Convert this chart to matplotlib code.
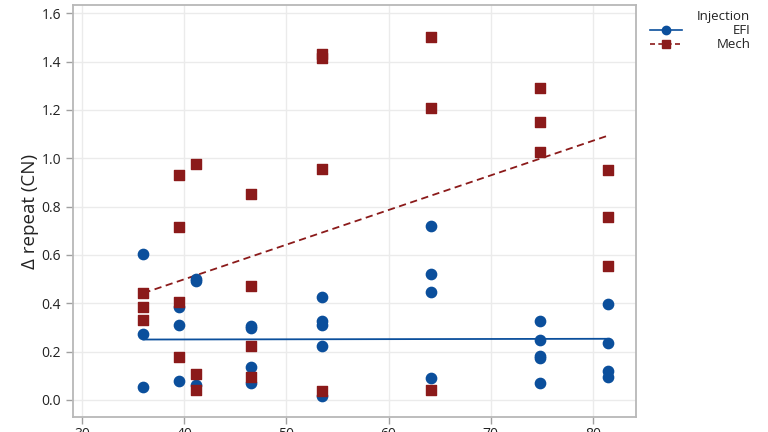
import numpy as np
import matplotlib.pyplot as plt
from matplotlib.lines import Line2D
from matplotlib.transforms import Affine2D

plt.rcParams['font.family'] = ['Open Sans', 'DejaVu Sans']

# EFI (blue circles)
efi_x = [36.0, 36.0, 36.0,
         39.5, 39.5, 39.5,
         41.1, 41.1, 41.1,
         46.5, 46.5, 46.5, 46.5,
         53.5, 53.5, 53.5, 53.5, 53.5,
         64.1, 64.1, 64.1, 64.1,
         74.8, 74.8, 74.8, 74.8, 74.8,
         81.5, 81.5, 81.5, 81.5]
efi_y = [0.603, 0.273, 0.055,
         0.386, 0.310, 0.078,
         0.492, 0.500, 0.062,
         0.306, 0.296, 0.138, 0.069,
         0.427, 0.326, 0.310, 0.224, 0.017,
         0.719, 0.523, 0.448, 0.092,
         0.326, 0.248, 0.172, 0.180, 0.069,
         0.395, 0.237, 0.120, 0.096]

# Mech (red squares)
mech_x = [36.0, 36.0, 36.0,
          39.5, 39.5, 39.5, 39.5,
          41.1, 41.1, 41.1,
          46.5, 46.5, 46.5, 46.5,
          53.5, 53.5, 53.5, 53.5,
          64.1, 64.1, 64.1,
          74.8, 74.8, 74.8,
          81.5, 81.5, 81.5]
mech_y = [0.443, 0.383, 0.331,
          0.931, 0.714, 0.405, 0.179,
          0.978, 0.107, 0.041,
          0.851, 0.472, 0.224, 0.096,
          1.432, 1.416, 0.957, 0.038,
          1.501, 1.207, 0.041,
          1.292, 1.150, 1.025,
          0.950, 0.757, 0.555]

# fitted lines (value at start and end of x range)
fit_x = [36.0, 81.3]
fit_efi = [0.250, 0.253]
fit_mech = [0.442, 1.091]

blue = '#0b4f9c'
red = '#8b1a1a'

fig = plt.figure(figsize=(7.68, 4.32), dpi=100)
ax = fig.add_axes([0.095, 0.035, 0.733, 0.953])

ax.grid(True, color='#ebebeb', linewidth=1)
ax.set_axisbelow(True)

ax.plot(fit_x, fit_efi, color=blue, linewidth=1.3)
ax.plot(fit_x, fit_mech, color=red, linewidth=1.3, linestyle=(0, (4, 2.5)))
ax.scatter(efi_x, efi_y, marker='o', s=55, color=blue, zorder=3)
ax.scatter(mech_x, mech_y, marker='s', s=55, color=red, zorder=3)

ax.set_xlim(29.1, 84.2)
ax.set_ylim(-0.07, 1.633)
ax.set_xticks([30, 40, 50, 60, 70, 80])
ax.set_yticks(np.arange(0, 1.61, 0.2))
ax.set_yticklabels([f'{v:.1f}' for v in np.arange(0, 1.61, 0.2)])
ax.tick_params(labelsize=10, color='#a0a0a0', length=5, width=1, labelcolor='#222222')
ax.tick_params(axis='x', pad=2.5)
for s in ax.spines.values():
    s.set_color('#b8b8b8')
    s.set_linewidth(1.3)
ax.set_ylabel('Δ repeat (CN)', fontsize=13.5, color='#222222', labelpad=1.5)

handles = [Line2D([], [], color=blue, marker='o', markersize=6, linewidth=1.2),
           Line2D([], [], color=red, marker='s', markersize=6, linewidth=1.2,
                  linestyle=(0, (3, 2)))]
leg = fig.legend(handles, ['EFI', 'Mech'], title='Injection', loc='upper right',
                 bbox_to_anchor=(0.989, 0.998), frameon=False, fontsize=9.5,
                 title_fontsize=9.5, alignment='right', handlelength=2.4,
                 handletextpad=2.6, labelspacing=0.08, borderpad=0.2)
for t in leg.get_texts():
    t.set_color('#222222')
leg.get_title().set_color('#222222')

# right-align the entry labels
renderer = fig.canvas.get_renderer()
widths = [t.get_window_extent(renderer).width for t in leg.get_texts()]
for t, w in zip(leg.get_texts(), widths):
    t.set_transform(t.get_transform() + Affine2D().translate(max(widths) - w, 0))

fig.savefig('out.png', dpi=100)
